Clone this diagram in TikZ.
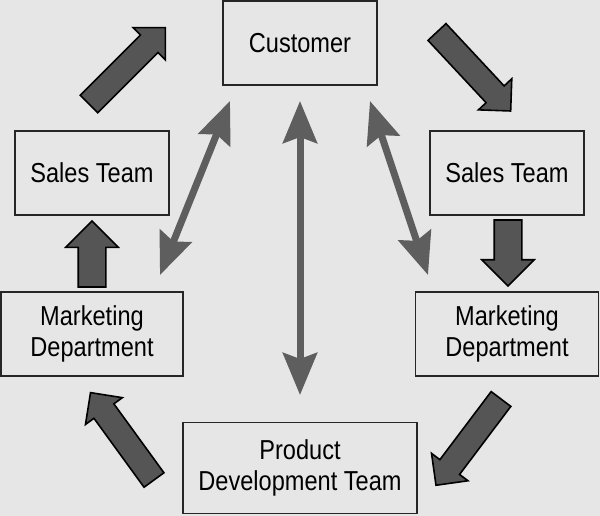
\documentclass[tikz,border=0pt]{standalone}
\usepackage{fontspec}
\setmainfont{Liberation Sans}[FakeStretch=0.86]
\usetikzlibrary{shapes.arrows,arrows.meta}
\definecolor{bggray}{HTML}{E6E6E6}
\definecolor{blockgray}{HTML}{555555}
\definecolor{linkgray}{HTML}{5E5E5E}
\tikzset{
  unit/.style={draw=black!85, line width=0.45mm, fill=bggray, align=center, inner sep=0pt,
    font=\fontsize{19.5pt}{22pt}\selectfont},
  flow/.style={single arrow, draw=black, line width=0.4mm, fill=blockgray, anchor=tail,
    inner xsep=0pt, inner ysep=2.875mm, outer sep=0pt, minimum width=0pt,
    single arrow head extend=2.625mm, minimum height=27mm},
  flowshort/.style={flow, inner ysep=3.25mm, single arrow head extend=3.125mm, minimum height=16.5mm},
  link/.style={draw=linkgray, line width=1.75mm, <->, >={Stealth[length=10.5mm,width=8.5mm,inset=1.5mm]}}
}
\begin{document}
\begin{tikzpicture}[x=0.25mm,y=-0.25mm]
\fill[bggray] (0,0) rectangle (600,516);
\useasboundingbox (0,0) rectangle (600,516);
\node[unit, minimum width=38.5mm, minimum height=21mm] (cust) at (300,43) {Customer};
\node[unit, minimum width=38.5mm, minimum height=21mm] (salesL) at (92,173) {Sales Team};
\node[unit, minimum width=38.5mm, minimum height=21mm] (salesR) at (507,173) {Sales Team};
\node[unit, minimum width=45.5mm, minimum height=21mm] (mktL) at (92,334) {Marketing\\Department};
\node[unit, minimum width=45.75mm, minimum height=21mm] (mktR) at (507,334) {Marketing\\Department};
\node[unit, minimum width=58.5mm, minimum height=22.75mm] (prod) at (300,468) {Product\\Development Team};
\node[flow, rotate=45] (toCust) at (89,104) {};
\node[flow, rotate=-47] (fromCust) at (437,32) {};
\node[flowshort, rotate=-90] (toMktR) at (508,220) {};
\node[flow, rotate=-127] (toProd) at (501,399) {};
\node[flow, rotate=126] (toMktL) at (154,480) {};
\node[flowshort, rotate=90] (toSalesL) at (92,287) {};
\coordinate (custL) at (230,101);
\coordinate (custM) at (300,101);
\coordinate (custR) at (370,101);
\coordinate (mktLend) at (160,275);
\coordinate (prodend) at (300,395);
\coordinate (mktRend) at (428,275);
\draw[link] (custL) -- (mktLend);
\draw[link] (custM) -- (prodend);
\draw[link] (custR) -- (mktRend);
\end{tikzpicture}
\end{document}
